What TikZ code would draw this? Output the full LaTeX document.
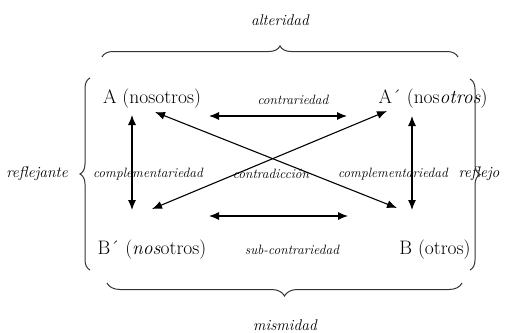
\documentclass[tikz,border=0pt]{standalone}
\usetikzlibrary{arrows.meta,decorations.pathreplacing}
\begin{document}
\begin{tikzpicture}[x=1pt,y=-1pt,
  term/.style={font=\fontsize{19.5}{22}\selectfont, inner sep=0pt},
  lab/.style={font=\itshape\fontsize{13.5}{15}\selectfont, inner sep=0pt},
  biglab/.style={font=\itshape\fontsize{15.5}{17}\selectfont, inner sep=0pt},
  rel/.style={{Latex[length=10pt,width=8pt]}-{Latex[length=10pt,width=8pt]}, line width=1.1pt},
  bracepath/.style={decorate, decoration={brace, amplitude=#1}, line width=1pt, draw=black!80},
]
\useasboundingbox (0,0) rectangle (508,332);

% terms
\node[term] (A)  at (152,99)  {A (nosotros)};
\node[term] (Ap) at (433,99)  {A´ (nos\textit{otros})};
\node[term] (Bp) at (152,250) {B´ (\textit{nos}otros)};
\node[term] (B)  at (435,250) {B (otros)};

% relation labels
\node[lab] (contr)  at (293,100) {contrariedad};
\node[lab] (sub)    at (292,250) {sub-contrariedad};
\node[lab] (compL)  at (148,174) {complementariedad};
\node[lab] (contra) at (271,174) {contradicción};
\node[lab] (compR)  at (393,174) {complementariedad};

% outer labels
\node[biglab] (refl)  at (37,174)  {reflejante};
\node[biglab] (refo)  at (479,174) {reflejo};
\node[biglab] (alt)   at (280,20)  {alteridad};
\node[biglab] (mism)  at (285,325) {mismidad};

% arrow end points
\coordinate (c1) at (209,116);
\coordinate (c2) at (347,116);
\coordinate (s1) at (209,216);
\coordinate (s2) at (348,216);
\coordinate (l1) at (132,115);
\coordinate (l2) at (132,210);
\coordinate (r1) at (412,116);
\coordinate (r2) at (412,210);
\coordinate (d1) at (155,112);
\coordinate (d2) at (397,208);
\coordinate (e1) at (387,111);
\coordinate (e2) at (152,209);

\draw[rel] (c1) -- (c2);
\draw[rel] (s1) -- (s2);
\draw[rel] (l1) -- (l2);
\draw[rel] (r1) -- (r2);
\draw[rel] (d1) -- (d2);
\draw[rel] (e1) -- (e2);

% braces
\coordinate (tb1) at (102,57);
\coordinate (tb2) at (458,57);
\coordinate (bb1) at (107,283);
\coordinate (bb2) at (462,283);
\coordinate (lb1) at (90,270);
\coordinate (lb2) at (90,78);
\coordinate (rb1) at (470,79);
\coordinate (rb2) at (470,270);
\draw[bracepath=11pt] (tb1) -- (tb2);
\draw[bracepath=13pt] (bb2) -- (bb1);
\draw[bracepath=10pt] (lb1) -- (lb2);
\draw[bracepath=10pt] (rb1) -- (rb2);
\end{tikzpicture}
\end{document}
